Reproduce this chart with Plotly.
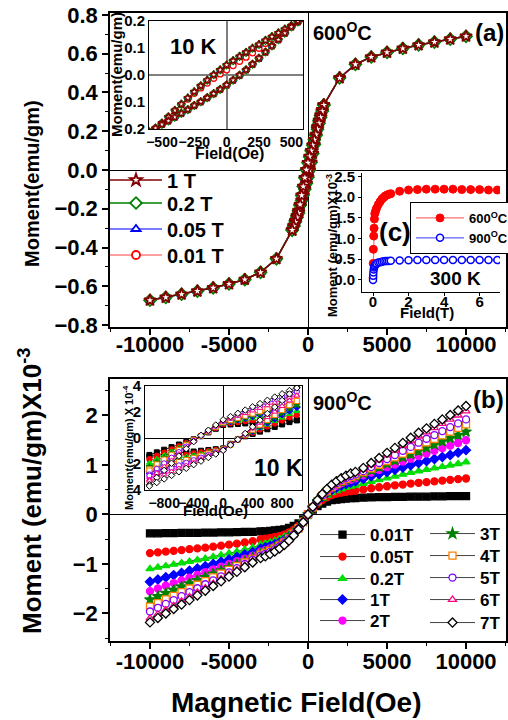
import plotly.graph_objects as go

FONT = "Liberation Sans, Arial, Helvetica, sans-serif"
W, H = 508, 720

# ---------------- Panel (a): 600 C, room-temperature loops (Oe, emu/gm) -------------
a_field_neg = [-10000, -9000, -8000, -7000, -6000, -5000, -4000, -3000, -2000]
a_moment_neg = [-0.672, -0.657, -0.641, -0.625, -0.608, -0.588, -0.565, -0.528, -0.458]
a_field_pos = [2000, 3000, 4000, 5000, 6000, 7000, 8000, 9000, 10000]
a_moment_pos = [0.475, 0.545, 0.583, 0.607, 0.627, 0.645, 0.660, 0.675, 0.690]
a_field_lo = [-1000, -900, -800, -700, -600, -500, -400, -300, -200, -100, 0,
              100, 200, 300, 400, 500, 600, 700, 800, 900, 1000]
a_moment_lo = [-0.310, -0.287, -0.262, -0.236, -0.210, -0.183, -0.156, -0.128, -0.099, -0.069, -0.037,
               -0.001, 0.040, 0.085, 0.131, 0.178, 0.222, 0.255, 0.283, 0.310, 0.335]
a_field_up = [1000, 900, 800, 700, 600, 500, 400, 300, 200, 100, 0,
              -100, -200, -300, -400, -500, -600, -700, -800, -900, -1000]
a_moment_up = [0.335, 0.303, 0.272, 0.241, 0.210, 0.183, 0.156, 0.128, 0.099, 0.069, 0.037,
               0.001, -0.040, -0.085, -0.131, -0.178, -0.222, -0.245, -0.268, -0.290, -0.310]

# inset of (a): 10 K
a10_field_up = [600, 550, 500, 450, 400, 350, 300, 250, 200, 150, 100, 50, 0,
                -50, -100, -150, -200, -250, -300, -350, -400, -450, -500, -550, -600]
a10_moment_up = [0.210, 0.197, 0.183, 0.170, 0.156, 0.142, 0.128, 0.113, 0.099, 0.084, 0.069, 0.053, 0.037,
                 0.019, 0.001, -0.019, -0.040, -0.062, -0.085, -0.108, -0.131, -0.155, -0.178, -0.200, -0.222]
a10_moment_up_001 = [0.210, 0.196, 0.181, 0.166, 0.150, 0.134, 0.117, 0.099, 0.082, 0.066, 0.051, 0.035, 0.019,
                     0.004, -0.012, -0.030, -0.048, -0.068, -0.089, -0.110, -0.132, -0.155, -0.178, -0.200, -0.222]
a10_field_lo = [-600, -550, -500, -450, -400, -350, -300, -250, -200, -150, -100, -50, 0,
                50, 100, 150, 200, 250, 300, 350, 400, 450, 500, 550, 600]
a10_moment_lo = [-0.210, -0.197, -0.183, -0.170, -0.156, -0.142, -0.128, -0.113, -0.099, -0.084, -0.069, -0.053, -0.037,
                 -0.019, -0.001, 0.019, 0.040, 0.062, 0.085, 0.108, 0.131, 0.155, 0.178, 0.200, 0.222]

a_names = ["0.01 T", "0.05 T", "0.2 T", "1 T"]

# inset (c): 300 K, field in T, moment in emu/gm x 1e-3
c_field = [0, 0.01, 0.02, 0.04, 0.06, 0.08, 0.1, 0.15, 0.2, 0.3, 0.4, 0.5, 0.6, 0.7, 0.8, 0.9, 1.0,
           1.5, 2.0, 2.5, 3.0, 3.5, 4.0, 4.5, 5.0, 5.5, 6.0, 6.5, 7.0]
c_600 = [0.05, 0.40, 0.74, 1.06, 1.25, 1.47, 1.60, 1.67, 1.73, 1.82, 1.89, 1.95, 1.99, 2.03, 2.05, 2.07, 2.08,
         2.14, 2.17, 2.18, 2.19, 2.19, 2.19, 2.19, 2.18, 2.18, 2.18, 2.17, 2.17]
c_900 = [0.0, 0.10, 0.18, 0.25, 0.30, 0.33, 0.35, 0.38, 0.40, 0.42, 0.43, 0.44, 0.45, 0.455, 0.46, 0.46, 0.465,
         0.47, 0.475, 0.48, 0.48, 0.48, 0.48, 0.48, 0.48, 0.48, 0.48, 0.48, 0.48]

# ---------------- Panel (b): 900 C, moment in emu/gm x 1e-3 ----------------
b_field = [-10000, -9500, -9000, -8500, -8000, -7500, -7000, -6500, -6000, -5500, -5000, -4500, -4000, -3500,
           -3000, -2700, -2400, -2100, -1800, -1500, -1200, -900, -600, -300, 0,
           300, 600, 900, 1200, 1500, 1800, 2100, 2400, 2700, 3000,
           3500, 4000, 4500, 5000, 5500, 6000, 6500, 7000, 7500, 8000, 8500, 9000, 9500, 10000]
b_001 = [-0.38, -0.38, -0.375, -0.375, -0.37, -0.37, -0.37, -0.365, -0.365, -0.36, -0.36, -0.355, -0.35, -0.35,
         -0.34, -0.34, -0.33, -0.32, -0.31, -0.30, -0.27, -0.23, -0.18, -0.10, 0.0,
         0.10, 0.17, 0.22, 0.26, 0.29, 0.30, 0.31, 0.32, 0.33, 0.33,
         0.34, 0.345, 0.35, 0.35, 0.355, 0.355, 0.36, 0.36, 0.36, 0.365, 0.365, 0.37, 0.37, 0.37]
b_005 = [-0.78, -0.765, -0.75, -0.735, -0.72, -0.70, -0.685, -0.67, -0.65, -0.63, -0.61, -0.59, -0.565, -0.54,
         -0.50, -0.49, -0.475, -0.455, -0.435, -0.405, -0.36, -0.305, -0.23, -0.13, 0.0,
         0.125, 0.22, 0.29, 0.345, 0.39, 0.42, 0.44, 0.455, 0.47, 0.48,
         0.505, 0.53, 0.55, 0.57, 0.59, 0.605, 0.625, 0.64, 0.655, 0.67, 0.685, 0.70, 0.715, 0.727]
b_02 = [-1.10, -1.07, -1.04, -1.01, -0.98, -0.95, -0.92, -0.89, -0.855, -0.82, -0.785, -0.75, -0.71, -0.67,
        -0.61, -0.586, -0.561, -0.531, -0.494, -0.451, -0.397, -0.329, -0.244, -0.134, 0.0,
        0.13, 0.236, 0.32, 0.384, 0.437, 0.478, 0.513, 0.543, 0.566, 0.59,
        0.626, 0.665, 0.70, 0.735, 0.77, 0.81, 0.845, 0.875, 0.905, 0.935, 0.965, 0.995, 1.025, 1.057]
b_1 = [-1.36, -1.315, -1.27, -1.225, -1.18, -1.135, -1.09, -1.045, -1.0, -0.955, -0.91, -0.86, -0.81, -0.76,
       -0.69, -0.662, -0.635, -0.600, -0.559, -0.511, -0.449, -0.373, -0.276, -0.152, 0.0,
       0.147, 0.268, 0.362, 0.436, 0.496, 0.543, 0.583, 0.616, 0.643, 0.67,
       0.72, 0.77, 0.815, 0.86, 0.905, 0.95, 0.995, 1.04, 1.08, 1.12, 1.16, 1.20, 1.25, 1.30]
b_2 = [-1.55, -1.495, -1.44, -1.385, -1.33, -1.275, -1.22, -1.165, -1.11, -1.055, -1.0, -0.945, -0.89, -0.83,
       -0.75, -0.72, -0.686, -0.645, -0.596, -0.54, -0.469, -0.383, -0.278, -0.15, 0.0,
       0.146, 0.27, 0.372, 0.456, 0.526, 0.58, 0.628, 0.668, 0.70, 0.73,
       0.79, 0.845, 0.90, 0.955, 1.01, 1.07, 1.125, 1.18, 1.23, 1.285, 1.34, 1.39, 1.445, 1.50]
b_3 = [-1.72, -1.655, -1.59, -1.525, -1.46, -1.395, -1.33, -1.265, -1.20, -1.135, -1.07, -1.005, -0.94, -0.87,
       -0.79, -0.758, -0.719, -0.672, -0.616, -0.553, -0.474, -0.379, -0.269, -0.142, 0.0,
       0.139, 0.262, 0.37, 0.462, 0.539, 0.60, 0.655, 0.70, 0.739, 0.77,
       0.83, 0.895, 0.96, 1.025, 1.09, 1.155, 1.22, 1.28, 1.345, 1.41, 1.475, 1.54, 1.605, 1.67]
b_4 = [-1.86, -1.79, -1.715, -1.645, -1.57, -1.495, -1.42, -1.345, -1.27, -1.195, -1.12, -1.045, -0.97, -0.895,
       -0.81, -0.778, -0.737, -0.689, -0.632, -0.567, -0.486, -0.389, -0.275, -0.146, 0.0,
       0.142, 0.269, 0.379, 0.474, 0.553, 0.616, 0.672, 0.719, 0.758, 0.79,
       0.855, 0.93, 1.005, 1.08, 1.155, 1.23, 1.305, 1.38, 1.455, 1.525, 1.60, 1.675, 1.75, 1.82]
b_5 = [-1.96, -1.885, -1.805, -1.73, -1.65, -1.57, -1.49, -1.41, -1.33, -1.25, -1.17, -1.085, -1.0, -0.915,
       -0.83, -0.797, -0.755, -0.706, -0.647, -0.581, -0.498, -0.398, -0.282, -0.149, 0.0,
       0.146, 0.275, 0.389, 0.486, 0.567, 0.632, 0.689, 0.737, 0.778, 0.81,
       0.875, 0.957, 1.04, 1.12, 1.20, 1.285, 1.365, 1.45, 1.53, 1.605, 1.685, 1.765, 1.84, 1.92]
b_6 = [-2.10, -2.015, -1.93, -1.845, -1.755, -1.665, -1.575, -1.485, -1.395, -1.305, -1.21, -1.12, -1.03, -0.94,
       -0.86, -0.826, -0.783, -0.731, -0.671, -0.602, -0.516, -0.413, -0.292, -0.155, 0.0,
       0.151, 0.286, 0.403, 0.504, 0.588, 0.655, 0.714, 0.764, 0.806, 0.84,
       0.91, 1.005, 1.10, 1.20, 1.295, 1.39, 1.485, 1.58, 1.665, 1.75, 1.835, 1.92, 2.005, 2.09]
b_7 = [-2.18, -2.09, -2.0, -1.91, -1.82, -1.73, -1.635, -1.54, -1.445, -1.35, -1.255, -1.16, -1.065, -0.97,
       -0.88, -0.845, -0.801, -0.748, -0.686, -0.616, -0.528, -0.422, -0.299, -0.158, 0.0,
       0.155, 0.292, 0.413, 0.516, 0.602, 0.671, 0.731, 0.783, 0.826, 0.86,
       0.94, 1.04, 1.14, 1.245, 1.345, 1.445, 1.55, 1.65, 1.74, 1.83, 1.92, 2.01, 2.10, 2.19]

# inset of (b): 10 K, moment in emu/gm x 1e-4
b10_field_up = [1000, 900, 800, 700, 600, 500, 400, 300, 200, 100, 0,
                -100, -200, -300, -400, -500, -600, -700, -800, -900, -1000]
b10_field_lo = [-1000, -900, -800, -700, -600, -500, -400, -300, -200, -100, 0,
                100, 200, 300, 400, 500, 600, 700, 800, 900, 1000]
b10_up_001 = [1.4, 1.36, 1.32, 1.28, 1.24, 1.2, 1.16, 1.12, 1.08, 1.04, 1.0, 0.71, 0.43, 0.14, -0.10, -0.30, -0.50, -0.70, -0.90, -1.10, -1.30]
b10_lo_001 = [-1.4, -1.34, -1.28, -1.22, -1.16, -1.1, -1.04, -0.98, -0.92, -0.86, -0.8, -0.45, -0.10, 0.13, 0.31, 0.49, 0.67, 0.85, 1.04, 1.22, 1.35]
b10_up_005 = [1.8, 1.725, 1.65, 1.575, 1.5, 1.425, 1.35, 1.275, 1.2, 1.125, 1.05, 0.75, 0.45, 0.15, -0.12, -0.37, -0.62, -0.86, -1.11, -1.35, -1.6]
b10_lo_005 = [-1.7, -1.61, -1.52, -1.44, -1.35, -1.26, -1.17, -1.08, -0.99, -0.91, -0.82, -0.46, -0.11, 0.16, 0.40, 0.63, 0.87, 1.10, 1.33, 1.57, 1.75]
b10_up_02 = [2.1, 2.0, 1.9, 1.8, 1.7, 1.6, 1.5, 1.4, 1.3, 1.2, 1.1, 0.79, 0.47, 0.16, -0.15, -0.44, -0.73, -1.02, -1.31, -1.61, -1.9]
b10_lo_02 = [-2.0, -1.88, -1.77, -1.65, -1.54, -1.42, -1.30, -1.19, -1.07, -0.96, -0.84, -0.47, -0.11, 0.19, 0.46, 0.74, 1.01, 1.28, 1.55, 1.83, 2.05]
b10_up_1 = [2.4, 2.275, 2.15, 2.025, 1.9, 1.775, 1.65, 1.525, 1.4, 1.275, 1.15, 0.82, 0.49, 0.16, -0.20, -0.60, -1.0, -1.40, -1.80, -2.20, -2.6]
b10_lo_1 = [-2.7, -2.52, -2.33, -2.15, -1.96, -1.78, -1.60, -1.41, -1.23, -1.04, -0.86, -0.49, -0.11, 0.22, 0.53, 0.84, 1.15, 1.46, 1.78, 2.09, 2.35]
b10_up_2 = [2.8, 2.64, 2.48, 2.32, 2.16, 2.0, 1.84, 1.68, 1.52, 1.36, 1.2, 0.86, 0.51, 0.17, -0.23, -0.69, -1.16, -1.61, -2.08, -2.54, -3.0]
b10_lo_2 = [-3.1, -2.88, -2.66, -2.43, -2.21, -1.99, -1.77, -1.55, -1.32, -1.10, -0.88, -0.50, -0.11, 0.25, 0.62, 0.98, 1.35, 1.71, 2.07, 2.44, 2.75]
b10_up_3 = [2.6, 2.455, 2.31, 2.165, 2.02, 1.875, 1.73, 1.585, 1.44, 1.295, 1.15, 0.82, 0.49, 0.16, -0.17, -0.51, -0.85, -1.18, -1.52, -1.86, -2.2]
b10_lo_3 = [-2.3, -2.16, -2.01, -1.87, -1.72, -1.58, -1.44, -1.29, -1.15, -1.0, -0.86, -0.49, -0.11, 0.24, 0.57, 0.91, 1.25, 1.59, 1.92, 2.26, 2.55]
b10_up_4 = [2.9, 2.73, 2.56, 2.39, 2.22, 2.05, 1.88, 1.71, 1.54, 1.37, 1.2, 0.86, 0.51, 0.17, -0.18, -0.55, -0.92, -1.29, -1.66, -2.03, -2.4]
b10_lo_4 = [-2.5, -2.34, -2.18, -2.01, -1.85, -1.69, -1.53, -1.37, -1.20, -1.04, -0.88, -0.50, -0.11, 0.26, 0.64, 1.02, 1.39, 1.77, 2.15, 2.52, 2.85]
b10_up_5 = [3.6, 3.37, 3.14, 2.91, 2.68, 2.45, 2.22, 1.99, 1.76, 1.53, 1.3, 0.93, 0.56, 0.19, -0.22, -0.65, -1.08, -1.51, -1.94, -2.37, -2.8]
b10_lo_5 = [-2.9, -2.7, -2.5, -2.3, -2.1, -1.9, -1.7, -1.5, -1.3, -1.1, -0.9, -0.51, -0.12, 0.33, 0.80, 1.26, 1.73, 2.20, 2.66, 3.13, 3.55]
b10_up_6 = [3.3, 3.1, 2.9, 2.7, 2.5, 2.3, 2.1, 1.9, 1.7, 1.5, 1.3, 0.93, 0.56, 0.19, -0.25, -0.74, -1.23, -1.72, -2.21, -2.71, -3.2]
b10_lo_6 = [-3.3, -3.06, -2.82, -2.58, -2.34, -2.1, -1.86, -1.62, -1.38, -1.14, -0.9, -0.51, -0.12, 0.30, 0.73, 1.16, 1.59, 2.01, 2.44, 2.87, 3.25]
b10_up_7 = [3.9, 3.65, 3.4, 3.15, 2.9, 2.65, 2.4, 2.15, 1.9, 1.65, 1.4, 1.0, 0.6, 0.2, -0.28, -0.83, -1.39, -1.94, -2.49, -3.05, -3.6]
b10_lo_7 = [-3.7, -3.43, -3.15, -2.88, -2.6, -2.33, -2.05, -1.78, -1.5, -1.23, -0.95, -0.54, -0.12, 0.35, 0.86, 1.37, 1.88, 2.38, 2.89, 3.39, 3.85]

b_names = ["0.01T", "0.05T", "0.2T", "1T", "2T", "3T", "4T", "5T", "6T", "7T"]

main_x_ticks = [-10000, -5000, 0, 5000, 10000]
main_x_labels = ["-10000", "-5000", "0", "5000", "10000"]

# ---------------- styles ----------------
a_styles = {
    "0.01 T": dict(mc="#ff0000", lc="#ff8080", sym="circle", size=8),
    "0.05 T": dict(mc="#0000ff", lc="#5050ff", sym="triangle-up", size=8),
    "0.2 T": dict(mc="#008000", lc="#008000", sym="diamond", size=9),
    "1 T": dict(mc="#800000", lc="#800000", sym="star", size=9),
}
# legend row centre (px from top) for each entry of the (a) legend
a_leg_rows = {"1 T": 180, "0.2 T": 203, "0.05 T": 229, "0.01 T": 255}

b_styles = [
    dict(c="#000000", sym="square", fill=True),
    dict(c="#ff0000", sym="circle", fill=True),
    dict(c="#00e000", sym="triangle-up", fill=True),
    dict(c="#0000ff", sym="diamond", fill=True),
    dict(c="#ff00ff", sym="circle", fill=True),
    dict(c="#008000", sym="star", fill=True),
    dict(c="#ff8000", sym="square", fill=False),
    dict(c="#8000ff", sym="circle", fill=False),
    dict(c="#ff0080", sym="triangle-up", fill=False),
    dict(c="#000000", sym="diamond", fill=False),
]
# legend positions (left px, row centre px) for (b) entries
b_leg_pos = [(315, 535), (315, 557), (315, 579), (315, 600), (315, 621),
             (425, 534), (425, 556), (425, 578), (425, 600), (425, 623)]


def fx(p):
    return p / W


def fy(p):
    return 1 - p / H


def bold(size):
    return dict(family=FONT, size=size, color="black", weight="bold")


fig = go.Figure()
legends = {}

# ---- panel (a) main
for k, name in enumerate(a_names):
    st = a_styles[name]
    lg = "legend" if k == 0 else "legend%d" % (k + 1)
    legends[lg] = dict(x=fx(105), y=fy(a_leg_rows[name]), xanchor="left", yanchor="middle",
                       font=bold(20), bgcolor="rgba(0,0,0,0)", itemwidth=52)
    xs = a_field_neg + a_field_lo + a_field_pos + [None] + a_field_up
    ys = a_moment_neg + a_moment_lo + a_moment_pos + [None] + a_moment_up
    fig.add_trace(go.Scatter(
        x=xs, y=ys, xaxis="x", yaxis="y", mode="lines+markers", name=name,
        legend=lg, connectgaps=False,
        line=dict(color=st["lc"], width=1.5),
        marker=dict(symbol=st["sym"], size=st["size"], color="white",
                    line=dict(color=st["mc"], width=1.8)),
    ))

# ---- inset (a)
for name in a_names:
    st = a_styles[name]
    up = a10_moment_up_001 if name == "0.01 T" else a10_moment_up
    fig.add_trace(go.Scatter(
        x=a10_field_up + [None] + a10_field_lo, y=up + [None] + a10_moment_lo,
        xaxis="x3", yaxis="y3", mode="lines+markers", showlegend=False,
        line=dict(color=st["lc"], width=1),
        marker=dict(symbol=st["sym"], size=6, color="white",
                    line=dict(color=st["mc"], width=1.3)),
    ))

# ---- inset (c)
legends["legend15"] = dict(x=fx(410), y=fy(202), xanchor="left", yanchor="top", traceorder="normal",
                           font=bold(13), bgcolor="white", bordercolor="black", borderwidth=1,
                           itemwidth=48)
fig.add_trace(go.Scatter(
    x=c_field, y=c_600, xaxis="x5", yaxis="y5", mode="lines+markers",
    name="600<sup>O</sup>C", legend="legend15",
    line=dict(color="#ff7070", width=1.2),
    marker=dict(symbol="circle", size=8, color="#ff0000", line=dict(color="#ff0000", width=1)),
))
fig.add_trace(go.Scatter(
    x=c_field, y=c_900, xaxis="x5", yaxis="y5", mode="lines+markers",
    name="900<sup>O</sup>C", legend="legend15",
    line=dict(color="#6060ff", width=1.2),
    marker=dict(symbol="circle", size=7, color="white", line=dict(color="#0000ff", width=1.5)),
))

# ---- panel (b) main + inset
b_main = [b_001, b_005, b_02, b_1, b_2, b_3, b_4, b_5, b_6, b_7]
b_up = [b10_up_001, b10_up_005, b10_up_02, b10_up_1, b10_up_2, b10_up_3, b10_up_4, b10_up_5, b10_up_6, b10_up_7]
b_lo = [b10_lo_001, b10_lo_005, b10_lo_02, b10_lo_1, b10_lo_2, b10_lo_3, b10_lo_4, b10_lo_5, b10_lo_6, b10_lo_7]
for i, name in enumerate(b_names):
    st = b_styles[i]
    fillc = st["c"] if st["fill"] else "white"
    sz = 8 if st["sym"] == "star" else 7
    lg = "legend%d" % (5 + i)
    lx, ly = b_leg_pos[i]
    legends[lg] = dict(x=fx(lx), y=fy(ly), xanchor="left", yanchor="middle",
                       font=bold(17), bgcolor="rgba(0,0,0,0)", itemwidth=45)
    fig.add_trace(go.Scatter(
        x=b_field, y=b_main[i], xaxis="x2", yaxis="y2", mode="lines+markers", name=name,
        legend=lg,
        line=dict(color="#444444", width=1),
        marker=dict(symbol=st["sym"], size=sz, color=fillc, line=dict(color=st["c"], width=1.3)),
    ))
for i, name in enumerate(b_names):
    st = b_styles[i]
    fillc = st["c"] if st["fill"] else "white"
    fig.add_trace(go.Scatter(
        x=b10_field_up + [None] + b10_field_lo, y=b_up[i] + [None] + b_lo[i],
        xaxis="x4", yaxis="y4", mode="lines+markers", showlegend=False,
        line=dict(color=st["c"], width=0.8),
        marker=dict(symbol=st["sym"], size=5, color=fillc, line=dict(color=st["c"], width=1)),
    ))


main_x = dict(
    range=[-12530, 12530], tickvals=main_x_ticks, ticktext=main_x_labels, tickangle=0,
    ticks="outside", ticklen=6, tickwidth=1.5, tickcolor="black",
    minor=dict(ticks="outside", ticklen=3, dtick=2500, tickcolor="black", tickwidth=1.2),
    showline=True, mirror=True, linecolor="black", linewidth=1.5,
    zeroline=True, zerolinecolor="black", zerolinewidth=1.2, automargin=False,
    showgrid=False, tickfont=bold(22), domain=[fx(110), fx(506)],
)
main_y = dict(
    ticks="outside", ticklen=6, tickwidth=1.5, tickcolor="black",
    showline=True, mirror=True, linecolor="black", linewidth=1.5,
    zeroline=True, zerolinecolor="black", zerolinewidth=1.2, automargin=False,
    showgrid=False, tickfont=bold(22),
)
box_inset = dict(showline=True, mirror=True, linecolor="black", linewidth=1, showgrid=False,
                 ticks="", automargin=False, tickangle=0)

fig.update_layout(
    width=W, height=H, margin=dict(l=0, r=0, t=0, b=0, autoexpand=False),
    paper_bgcolor="white", plot_bgcolor="white",
    font=dict(family=FONT, color="black"),
    xaxis=dict(main_x, anchor="y", ticklabelstandoff=-9),
    yaxis=dict(main_y, range=[-0.81, 0.81], dtick=0.2, tickformat=".1f", anchor="x",
               minor=dict(ticks="outside", ticklen=3, dtick=0.1, tickcolor="black", tickwidth=1.2),
               domain=[fy(327), fy(13)]),
    xaxis2=dict(main_x, anchor="y2", ticklabelstandoff=-6),
    yaxis2=dict(main_y, range=[-2.556, 2.737], tickvals=[-2, -1, 0, 1, 2], anchor="x2",
                minor=dict(ticks="outside", ticklen=3, dtick=0.5, tickcolor="black", tickwidth=1.2),
                domain=[fy(641), fy(379)]),
    xaxis3=dict(box_inset, range=[-600, 590], tickvals=[-500, -250, 0, 250, 500], anchor="y3",
                zeroline=True, zerolinecolor="#808080", zerolinewidth=1.5,
                tickfont=bold(14), domain=[fx(149), fx(303)]),
    yaxis3=dict(box_inset, range=[-0.2, 0.2], tickvals=[-0.2, -0.1, 0, 0.1, 0.2],
                ticktext=["0.2", "0.1", "0.0", "0.1", "0.2"], anchor="x3",
                zeroline=True, zerolinecolor="#808080", zerolinewidth=1.5,
                tickfont=bold(15), domain=[fy(129), fy(21)]),
    xaxis4=dict(box_inset, range=[-1060, 1070], tickvals=[-800, -400, 0, 400, 800], anchor="y4",
                zeroline=True, zerolinecolor="black", zerolinewidth=1,
                tickfont=bold(14), domain=[fx(145), fx(302)]),
    yaxis4=dict(box_inset, range=[-4, 4], tickvals=[-4, -2, 0, 2, 4],
                ticktext=["4", "2", "0", "2", "4"], anchor="x4",
                zeroline=True, zerolinecolor="black", zerolinewidth=1,
                tickfont=bold(15), domain=[fy(490), fy(386)]),
    xaxis5=dict(range=[-0.62, 7.15], tickvals=[0, 2, 4, 6], anchor="y5", tickangle=0,
                showline=True, linecolor="black", linewidth=1, showgrid=False, zeroline=False,
                ticks="outside", ticklen=3, tickcolor="black", automargin=False, ticklabelstandoff=-7,
                tickfont=bold(15), domain=[fx(362), fx(500)]),
    yaxis5=dict(range=[-0.29, 2.58], tickvals=[0, 0.5, 1.0, 1.5, 2.0, 2.5], tickformat=".1f", anchor="x5",
                showline=True, linecolor="black", linewidth=1, showgrid=False, zeroline=False,
                ticks="outside", ticklen=3, tickcolor="black", automargin=False,
                tickfont=bold(15), domain=[fy(292), fy(173)]),
    **legends,
)

ann = [
    dict(text="Moment(emu/gm)", x=fx(32), y=fy(184), textangle=-90, font=bold(20)),
    dict(text="Moment (emu/gm)X10<sup>-3</sup>", x=fx(30), y=fy(491), textangle=-90, font=bold(26)),
    dict(text="Magnetic Field(Oe)", x=fx(296), y=fy(702), font=bold(28)),
    dict(text="600<sup>O</sup>C", x=fx(311), y=fy(32), xanchor="left", font=bold(20)),
    dict(text="(a)", x=fx(506), y=fy(33), xanchor="right", font=bold(24)),
    dict(text="900<sup>O</sup>C", x=fx(311), y=fy(401), xanchor="left", font=bold(20)),
    dict(text="(b)", x=fx(506), y=fy(399), xanchor="right", font=bold(24)),
    dict(text="10 K", x=fx(193), y=fy(47), font=bold(22)),
    dict(text="Field(Oe)", x=fx(229), y=fy(153), font=bold(16)),
    dict(text="Moment(emu/gm)", x=fx(117), y=fy(75), textangle=-90, font=bold(15)),
    dict(text="10 K", x=fx(278), y=fy(468), font=bold(23)),
    dict(text="Field(Oe)", x=fx(215), y=fy(510), font=bold(15)),
    dict(text="Moment(emu/gm) X 10<sup>-4</sup>", x=fx(128), y=fy(448), textangle=-90, font=bold(11)),
    dict(text="(c)", x=fx(395), y=fy(232), font=bold(26)),
    dict(text="300 K", x=fx(455), y=fy(278), font=bold(19)),
    dict(text="Field(T)", x=fx(427), y=fy(312), font=bold(15)),
    dict(text="Moment (emu/gm)X10<sup>-3</sup>", x=fx(332), y=fy(246), textangle=-90, font=bold(13)),
]
for a in ann:
    a.setdefault("xanchor", "center")
    a.setdefault("yanchor", "middle")
    fig.add_annotation(xref="paper", yref="paper", showarrow=False, **a)

fig.write_html("out.html", config={"displayModeBar": False},
               post_script="document.body.style.margin='0';document.body.style.overflow='hidden';")
